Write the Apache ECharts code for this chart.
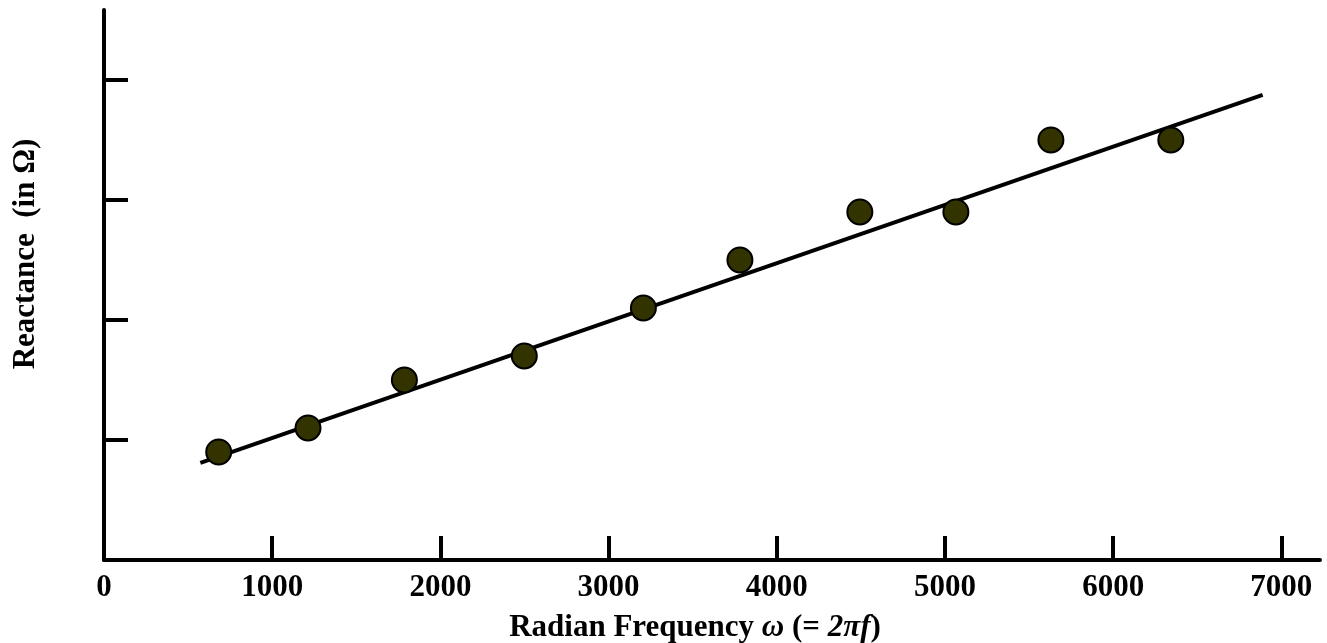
<!DOCTYPE html>
<html>
<head>
<meta charset="utf-8">
<script src="https://cdn.jsdelivr.net/npm/echarts@6/dist/echarts.min.js"></script>
<style>
  html, body { margin: 0; padding: 0; background: #fff; }
  #main { width: 1327px; height: 643px; }
</style>
</head>
<body>
<div id="main"></div>
<script>
// measured points (omega, reactance)
var omega = [682, 1213, 1786, 2499, 3207, 3781, 4494, 5065, 5630, 6343];
var reactance = [0.9, 1.1, 1.5, 1.7, 2.1, 2.5, 2.9, 2.9, 3.5, 3.5];
// best-fit line end points
var fitX = [573, 6889];
var fitY = [0.81, 3.875];
var xTicks = [0, 1000, 2000, 3000, 4000, 5000, 6000, 7000];
var yTicks = [1, 2, 3, 4];

var chartDom = document.getElementById('main');
var myChart = echarts.init(chartDom, null, { renderer: 'canvas' });

var pts = omega.map(function (x, i) { return [x, reactance[i]]; });
var fit = fitX.map(function (x, i) { return [x, fitY[i]]; });

var font = 'Liberation Serif';
var option = {
    animation: false,
    grid: { left: 104, right: 7, top: 10, bottom: 83, outerBoundsMode: 'none' },
    xAxis: {
        type: 'value',
        min: 0,
        max: 7230,
        splitLine: { show: false },
        axisLine: { onZero: false, lineStyle: { color: '#000', width: 4 } },
        axisTick: { inside: true, length: 24, lineStyle: { color: '#000', width: 4 }, customValues: xTicks },
        axisLabel: {
            customValues: xTicks,
            formatter: function (v) { return String(v); },
            color: '#000', fontFamily: font, fontWeight: 'bold', fontSize: 31, margin: 12
        },
        name: 'Radian Frequency {i|ω} (= {i|2πf})',
        nameLocation: 'middle',
        nameGap: 52,
        nameTextStyle: {
            color: '#000', fontFamily: font, fontWeight: 'bold', fontSize: 31,
            padding: [0, 34, 0, 0],
            rich: { i: { fontStyle: 'italic', fontWeight: 'bold', fontFamily: font, fontSize: 31, color: '#000' } }
        }
    },
    yAxis: {
        type: 'value',
        min: 0,
        max: 4.583,
        splitLine: { show: false },
        axisLine: { show: true, lineStyle: { color: '#000', width: 4 } },
        axisTick: { show: true, inside: true, length: 24, lineStyle: { color: '#000', width: 4 }, customValues: yTicks },
        axisLabel: { show: false },
        name: 'Reactance  (in Ω)',
        nameLocation: 'middle',
        nameRotate: 90,
        nameGap: 63,
        nameTextStyle: {
            color: '#000', fontFamily: font, fontWeight: 'bold', fontSize: 31,
            padding: [0, 0, 0, 62]
        }
    },
    series: [
        {
            type: 'line',
            data: fit,
            symbol: 'none',
            lineStyle: { color: '#000', width: 4 },
            z: 2
        },
        {
            type: 'scatter',
            data: pts,
            symbolSize: 25,
            itemStyle: { color: '#333300', borderColor: '#000', borderWidth: 2, opacity: 1 },
            z: 3
        }
    ]
};

option && myChart.setOption(option);
</script>
</body>
</html>
